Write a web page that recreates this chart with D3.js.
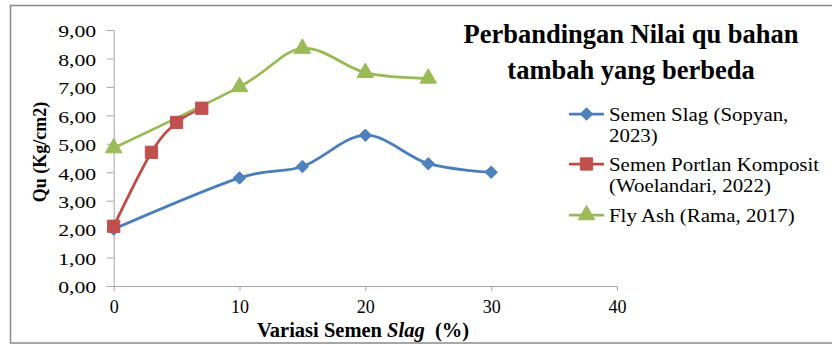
<!DOCTYPE html>
<html>
<head>
<meta charset="utf-8">
<script src="https://cdn.jsdelivr.net/npm/d3@7"></script>
<style>
  html, body { margin: 0; padding: 0; background: #fff; }
  svg { display: block; }
</style>
</head>
<body>
<svg id="chart" width="832" height="345"></svg>
<script>
// Qu values (kg/cm2) against additive percentage for three studies
const slagX = [0, 10, 15, 20, 25, 30];
const slagQu = [2.0, 3.8, 4.2, 5.3, 4.3, 4.0];

const portlandX = [0, 3, 5, 7];
const portlandQu = [2.1, 4.7, 5.75, 6.25];

const flyAshX = [0, 10, 15, 20, 25];
const flyAshQu = [4.85, 7.0, 8.35, 7.5, 7.3];

const seriesNames = [
  ["Semen Slag (Sopyan,", "2023)"],
  ["Semen Portlan Komposit", "(Woelandari, 2022)"],
  ["Fly Ash (Rama, 2017)"]
];
const xTicks = [0, 10, 20, 30, 40];
const yTicks = [0, 1, 2, 3, 4, 5, 6, 7, 8, 9];
const titleLines = ["Perbandingan Nilai qu bahan", "tambah yang berbeda"];

const SERIF = "'Liberation Serif', 'Times New Roman', Times, serif";

const svg = d3.select("#chart");

// outer chart border (right edge runs off the canvas)
svg.append("rect")
  .attr("x", 10.5).attr("y", 5.5)
  .attr("width", 840).attr("height", 337.5)
  .attr("fill", "none").attr("stroke", "#8a8a8a").attr("stroke-width", 1.5);

const x = d3.scaleLinear().domain([0, 40]).range([113.7, 617]);
const y = d3.scaleLinear().domain([0, 9]).range([286, 30]);

const axisColor = "#a6a6a6";
const fmt = v => d3.format(".2f")(v).replace(".", ",");

// y axis (labels drawn slightly wide, as in the source workbook)
const yLabelStretch = 1.28;
const gy = svg.append("g").attr("transform", `translate(${x(0)},0)`)
  .call(d3.axisLeft(y).tickValues(yTicks).tickFormat(fmt).tickSize(7).tickPadding(10));
gy.select(".domain").attr("stroke", axisColor);
gy.selectAll(".tick line").attr("stroke", axisColor);
gy.selectAll(".tick text")
  .style("font-family", SERIF)
  .style("font-size", "17px").attr("fill", "#000")
  .attr("x", -17.5 / yLabelStretch)
  .attr("transform", `scale(${yLabelStretch},1)`)
  .attr("dy", "0.4em");

// x axis
const gx = svg.append("g").attr("transform", `translate(0,${y(0)})`)
  .call(d3.axisBottom(x).tickValues(xTicks).tickFormat(d3.format("d")).tickSize(5).tickPadding(9));
gx.select(".domain").attr("stroke", axisColor).attr("d", `M${x(0) - 7},0.5H${x(40)}`);
gx.selectAll(".tick line").attr("stroke", axisColor);
gx.selectAll(".tick text")
  .style("font-family", SERIF)
  .style("font-size", "18px").attr("fill", "#000");

// axis titles
const xt = svg.append("text")
  .attr("x", 363).attr("y", 337)
  .attr("text-anchor", "middle")
  .style("font-family", SERIF)
  .style("font-size", "20.5px").style("font-weight", "bold")
  .style("white-space", "pre");
xt.append("tspan").text("Variasi Semen ");
xt.append("tspan").style("font-style", "italic").text("Slag");
xt.append("tspan").text("  (%)");

svg.append("text")
  .attr("transform", "translate(46,152) rotate(-90)")
  .attr("text-anchor", "middle")
  .style("font-family", SERIF)
  .style("font-size", "18px").style("font-weight", "bold")
  .text("Qu (Kg/cm2)");

// title
svg.append("g").selectAll("text").data(titleLines).join("text")
  .attr("x", 631).attr("y", (d, i) => 43 + i * 36)
  .attr("text-anchor", "middle")
  .style("font-family", SERIF)
  .style("font-size", "26.5px").style("font-weight", "bold")
  .text(d => d);

// series definitions
const series = [
  { xs: slagX, ys: slagQu, line: "#4a7ebb", fill: "#4f81bd", marker: "diamond" },
  { xs: portlandX, ys: portlandQu, line: "#be4b48", fill: "#c0504d", marker: "square" },
  { xs: flyAshX, ys: flyAshQu, line: "#98b954", fill: "#9bbb59", marker: "triangle" }
];

const markerPath = {
  diamond: d3.symbol().type(d3.symbolDiamond2).size(100)(),
  square: d3.symbol().type(d3.symbolSquare).size(150)(),
  triangle: d3.symbol().type(d3.symbolTriangle).size(120)()
};

const line = d3.line().curve(d3.curveCardinal.tension(0));

const plot = svg.append("g");
series.forEach(s => {
  const pts = s.xs.map((v, i) => [x(v), y(s.ys[i])]);
  plot.append("path")
    .attr("d", line(pts))
    .attr("fill", "none").attr("stroke", s.line)
    .attr("stroke-width", 2.75).attr("stroke-linecap", "round");
});
series.forEach(s => {
  plot.append("g").selectAll("path").data(s.xs.map((v, i) => [v, s.ys[i]])).join("path")
    .attr("d", markerPath[s.marker])
    .attr("transform", d => `translate(${x(d[0])},${y(d[1])})`)
    .attr("fill", s.fill).attr("stroke", s.fill).attr("stroke-width", 1);
});

// legend
const legendY = [114, 164, 215];
const legendStretch = 1.1;
const legend = svg.append("g");
series.forEach((s, i) => {
  const g = legend.append("g").attr("transform", `translate(0,${legendY[i]})`);
  g.append("line").attr("x1", 569).attr("x2", 604).attr("y1", 0).attr("y2", 0)
    .attr("stroke", s.line).attr("stroke-width", 2.75);
  g.append("path").attr("d", markerPath[s.marker])
    .attr("transform", "translate(586.5,0)")
    .attr("fill", s.fill).attr("stroke", s.fill);
  g.selectAll("text").data(seriesNames[i]).join("text")
    .attr("transform", (d, j) => `translate(609,${6.5 + j * 21.5}) scale(${legendStretch},1)`)
    .style("font-family", SERIF)
    .style("font-size", "19px")
    .text(d => d);
});
</script>
</body>
</html>
